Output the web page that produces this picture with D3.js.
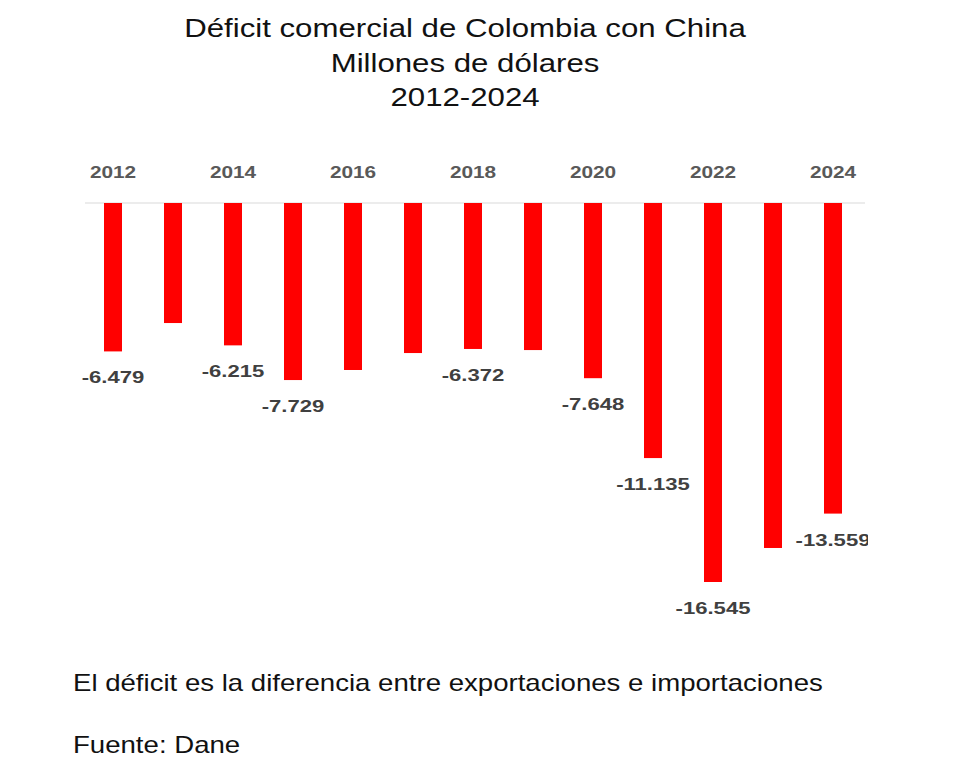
<!DOCTYPE html>
<html><head><meta charset="utf-8">
<script src="https://cdn.jsdelivr.net/npm/d3@7"></script>
<style>body{margin:0;background:#fff}</style></head>
<body><svg id="c" width="970" height="774"></svg>
<script>
const years = [2012,2013,2014,2015,2016,2017,2018,2019,2020,2021,2022,2023,2024];
const values = [-6479,-5240,-6215,-7729,-7290,-6550,-6372,-6420,-7648,-11135,-16545,-15060,-13559];
const labeled = [2012,2014,2015,2018,2020,2021,2022,2024];
const tickYears = [2012,2014,2016,2018,2020,2022,2024];
const titleLines = ["Déficit comercial de Colombia con China","Millones de dólares","2012-2024"];
const notes = ["El déficit es la diferencia entre exportaciones e importaciones","Fuente: Dane"];

const svg = d3.select("#c");
const F = "Liberation Sans, Arial";
const fmt = v => "-" + d3.format(",")(Math.abs(v)).replace(/,/g,".");
const x = d3.scaleBand().domain(years).range([83,863]).paddingInner(0.7).paddingOuter(0.35);
const y = d3.scaleLinear().domain([0,-16545]).range([203,582]);

svg.selectAll("text.t").data(titleLines).join("text")
  .attr("transform",(d,i)=>`translate(465,${37+i*34.5}) scale(1.2,1)`).attr("text-anchor","middle")
  .attr("font-family",F).attr("font-size",26).attr("fill","#111").text(d=>d);

svg.append("defs").append("clipPath").attr("id","clp").append("rect")
  .attr("x",0).attr("y",0).attr("width",868).attr("height",774);

svg.append("line").attr("x1",85).attr("x2",865).attr("y1",y(0)).attr("y2",y(0))
  .attr("stroke","#d9d9d9").attr("stroke-width",1);

svg.append("g").selectAll("text").data(tickYears).join("text")
  .attr("transform",d=>`translate(${x(d)+x.bandwidth()/2},178) scale(1.3,1)`)
  .attr("text-anchor","middle").attr("font-family",F).attr("font-size",16)
  .attr("font-weight","bold").attr("fill","#595959").text(d=>d);

svg.selectAll("rect.b").data(years).join("rect")
  .attr("x",d=>x(d)).attr("width",x.bandwidth())
  .attr("y",y(0)).attr("height",(d,i)=>y(values[i])-y(0)).attr("fill","#ff0000");

const g = svg.append("g").attr("clip-path","url(#clp)");
g.selectAll("text").data(years.map((d,i)=>({d,v:values[i]})).filter(o=>labeled.includes(o.d))).join("text")
  .attr("transform",o=>`translate(${x(o.d)+x.bandwidth()/2},${y(o.v)+32}) scale(1.3,1)`).attr("text-anchor","middle")
  .attr("font-family",F).attr("font-size",17).attr("font-weight","bold")
  .attr("fill","#404040").text(o=>fmt(o.v));

svg.selectAll("text.n").data(notes).join("text")
  .attr("transform",(d,i)=>`translate(73,${691+i*62}) scale(1.2,1)`)
  .attr("font-family",F).attr("font-size",23).attr("fill","#111").text(d=>d);
</script></body></html>
